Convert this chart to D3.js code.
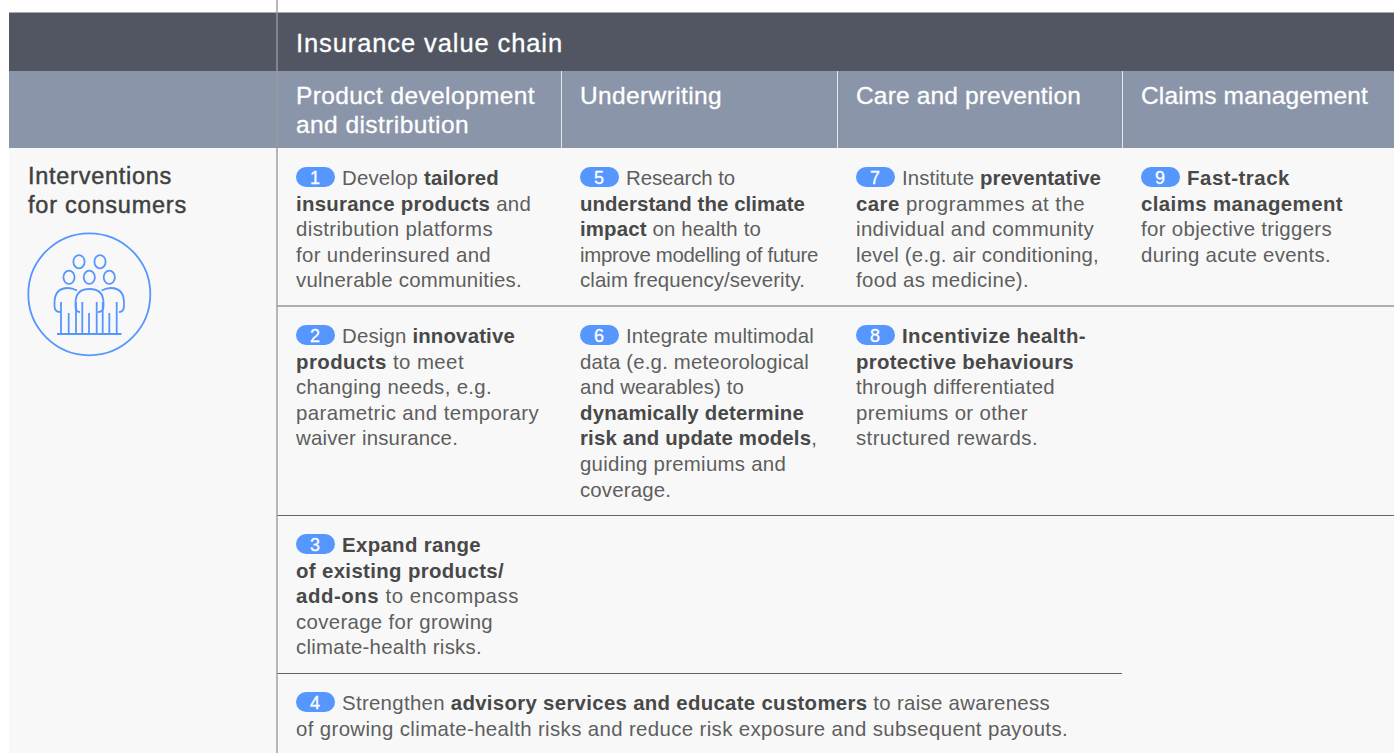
<!DOCTYPE html>
<html lang="en">
<head>
    <meta charset="UTF-8">
    <title>Insurance value chain</title>
    <style>
    html, body { margin: 0; padding: 0; background: #fff; overflow: hidden; }
    text { font-family: "Liberation Sans", Arial, sans-serif; }
    </style>
</head>
<body>
    <script src="https://d3js.org/d3.v7.min.js"></script>
    <div id="my_dataviz"></div>
    <script>

    // ---------------------------//
    //       DATA                 //
    // ---------------------------//
    var chainTitle = "Insurance value chain"
    var columns = ["Product development and distribution", "Underwriting", "Care and prevention", "Claims management"]
    var columnLines = [["Product development", "and distribution"], ["Underwriting"], ["Care and prevention"], ["Claims management"]]
    var rowLabel = ["Interventions", "for consumers"]
    var rows = ["first", "second", "third", "fourth"]

    var cellNumbers = [1, 2, 3, 4, 5, 6, 7, 8, 9]
    var cellColumns = [0, 0, 0, 0, 1, 1, 2, 2, 3]
    var cellRows = ["first", "second", "third", "fourth", "first", "second", "first", "second", "first"]

    // ** switches bold on and off
    var cellLines = [
      ["Develop **tailored**", "**insurance products** and", "distribution platforms", "for underinsured and", "vulnerable communities."],
      ["Design **innovative**", "**products** to meet", "changing needs, e.g.", "parametric and temporary", "waiver insurance."],
      ["**Expand range**", "**of existing products/**", "**add-ons** to encompass", "coverage for growing", "climate-health risks."],
      ["Strengthen **advisory services and educate customers** to raise awareness", "of growing climate-health risks and reduce risk exposure and subsequent payouts."],
      ["Research to", "**understand the climate**", "**impact** on health to", "improve modelling of future", "claim frequency/severity."],
      ["Integrate multimodal", "data (e.g. meteorological", "and wearables) to", "**dynamically determine**", "**risk and update models**,", "guiding premiums and", "coverage."],
      ["Institute **preventative**", "**care** programmes at the", "individual and community", "level (e.g. air conditioning,", "food as medicine)."],
      ["**Incentivize health-**", "**protective behaviours**", "through differentiated", "premiums or other", "structured rewards."],
      ["**Fast-track**", "**claims management**", "for objective triggers", "during acute events."]
    ]

    // ---------------------------//
    //       LAYOUT               //
    // ---------------------------//
    var width = 1394, height = 753
    var bodySize = 20.4, lineStep = 25.6
    var regularColor = "#5e5e5e", boldColor = "#484848", pillColor = "#5596ff"

    // right edge of every text line, so the tracking follows the original
    var lineEnds = [
      [499, 531, 493, 491, 522],
      [515, 464, 492, 539, 458],
      [481, 504, 519, 493, 482],
      [1050, 1068],
      [735, 805, 761, 818, 805],
      [814, 809, 744, 804, 817, 786, 671],
      [1101, 1085, 1094, 1099, 1029],
      [1086, 1074, 1055, 1028, 1038],
      [1290, 1343, 1332, 1331]
    ]
    var headerEnds = [[535, 469], [722], [1081], [1368]]

    var svg = d3.select("#my_dataviz")
      .append("svg")
        .attr("width", width)
        .attr("height", height)
        .style("display", "block")

    // text start of each column and first baseline of each row
    var x = d3.scaleOrdinal().domain(d3.range(columns.length)).range([296, 580, 856, 1141])
    var y = d3.scaleOrdinal().domain(rows).range([185, 343, 552, 710])
    var dividers = d3.scaleOrdinal().domain([0, 1, 2]).range([561.5, 837.5, 1122.5])

    // spread the letters of a text until it is as wide as wanted
    function fit(text, wanted) {
      var n = text.text().length
      var extra = (wanted - text.node().getComputedTextLength()) / n
      text.style("letter-spacing", extra + "px")
    }

    // ---------------------------//
    //       BANDS AND RULES      //
    // ---------------------------//
    svg.append("rect").attr("x", 9).attr("y", 148).attr("width", width - 9).attr("height", height - 148).attr("fill", "#f8f8f8")
    svg.append("rect").attr("x", 9).attr("y", 71).attr("width", width - 9).attr("height", 77).attr("fill", "#8b95a9")
    svg.append("rect").attr("x", 9).attr("y", 12.5).attr("width", width - 9).attr("height", 58.5).attr("fill", "#525663")

    svg.selectAll("line.divider")
      .data(dividers.domain())
      .enter()
      .append("line")
        .attr("class", "divider")
        .attr("x1", function(d) { return dividers(d) })
        .attr("x2", function(d) { return dividers(d) })
        .attr("y1", 71)
        .attr("y2", 148)
        .attr("stroke", "#e4e7ec")
        .attr("stroke-width", 1)

    var rules = [[306, width], [515.5, width], [673.5, 1122]]
    svg.selectAll("line.rule")
      .data(rules)
      .enter()
      .append("line")
        .attr("class", "rule")
        .attr("x1", 277)
        .attr("x2", function(d) { return d[1] })
        .attr("y1", function(d) { return d[0] })
        .attr("y2", function(d) { return d[0] })
        .attr("stroke", "#5f6372")
        .attr("stroke-width", 1)

    svg.append("line")
      .attr("x1", 277).attr("x2", 277)
      .attr("y1", 0).attr("y2", height)
      .attr("stroke", "#9a9a9a")
      .attr("stroke-width", 1.4)

    // ---------------------------//
    //       HEADERS              //
    // ---------------------------//
    var title = svg.append("text")
      .attr("x", x(0))
      .attr("y", 52)
      .attr("fill", "#fff")
      .attr("stroke", "#fff")
      .attr("stroke-width", 0.3)
      .style("font-size", "25.5px")
      .text(chainTitle)
    fit(title, 563 - x(0))

    columnLines.forEach(function(lines, i) {
      lines.forEach(function(line, j) {
        var head = svg.append("text")
          .attr("x", x(i))
          .attr("y", 104 + j * 29)
          .attr("fill", "#fff")
          .attr("stroke", "#fff")
          .attr("stroke-width", 0.3)
          .style("font-size", "24.5px")
          .text(line)
        fit(head, headerEnds[i][j] - x(i))
      })
    })

    var labelEnds = [172, 187]
    rowLabel.forEach(function(line, j) {
      var label = svg.append("text")
        .attr("x", 28)
        .attr("y", 184 + j * 29)
        .attr("fill", "#404040")
        .attr("stroke", "#404040")
        .attr("stroke-width", 0.45)
        .style("font-size", "23.5px")
        .text(line)
      fit(label, labelEnds[j] - 28)
    })

    // ---------------------------//
    //       CELLS                //
    // ---------------------------//
    cellNumbers.forEach(function(num, i) {
      var cx = x(cellColumns[i]), base = y(cellRows[i])

      var pill = svg.append("g")
      pill.append("rect")
        .attr("x", cx)
        .attr("y", base - 18)
        .attr("width", 39)
        .attr("height", 20)
        .attr("rx", 10)
        .attr("fill", pillColor)
      pill.append("text")
        .attr("x", cx + 19)
        .attr("y", base - 1.5)
        .attr("text-anchor", "middle")
        .attr("fill", "#fff")
        .attr("stroke", "#fff")
        .attr("stroke-width", 0.3)
        .style("font-size", "18px")
        .text(num)

      cellLines[i].forEach(function(line, j) {
        var left = j == 0 ? cx + 46 : cx
        var text = svg.append("text")
          .attr("x", left)
          .attr("y", base + j * lineStep)
          .style("font-size", bodySize + "px")
        line.split("**").forEach(function(part, k) {
          if (part == "") return
          text.append("tspan")
            .attr("fill", k % 2 ? boldColor : regularColor)
            .style("font-weight", k % 2 ? 700 : 400)
            .text(part)
        })
        fit(text, lineEnds[i][j] - left)
      })
    })

    // ---------------------------//
    //       ICON                 //
    // ---------------------------//
    var icon = svg.append("g")
      .attr("fill", "none")
      .attr("stroke", pillColor)
      .attr("stroke-width", 1.8)

    icon.append("circle").attr("cx", 89.3).attr("cy", 294.3).attr("r", 61)

    var headX = [79, 100, 69, 89.3, 109.3]
    var headY = [261.7, 261.7, 277.3, 277.3, 277.3]
    headX.forEach(function(hx, i) {
      icon.append("ellipse").attr("cx", hx).attr("cy", headY[i]).attr("rx", 5.6).attr("ry", 6.6)
    })

    var bodies = [
      "M80,312 Q75.5,312 75.5,306 L75.5,303 Q75.5,289 89.5,289 Q103.5,289 103.5,303 L103.5,306 Q103.5,312 98,312",
      "M77,290.5 Q72,288 68,288 Q54.5,288 54.5,303 L54.5,306 Q54.5,312 60,312",
      "M101.6,290.5 Q106.6,288 110.6,288 Q124,288 124,303 L124,306 Q124,312 119,312"
    ]
    bodies.forEach(function(d) { icon.append("path").attr("d", d) })

    var legX = [61, 68.7, 76, 82.3, 89, 96.7, 102.7, 109.3, 116.7]
    var legTop = [302, 313, 302, 302, 313, 302, 302, 313, 302]
    legX.forEach(function(lx, i) {
      icon.append("line").attr("x1", lx).attr("x2", lx).attr("y1", legTop[i]).attr("y2", 334)
    })
    icon.append("line").attr("x1", 57).attr("x2", 121.5).attr("y1", 334).attr("y2", 334)

    </script>
</body>
</html>
